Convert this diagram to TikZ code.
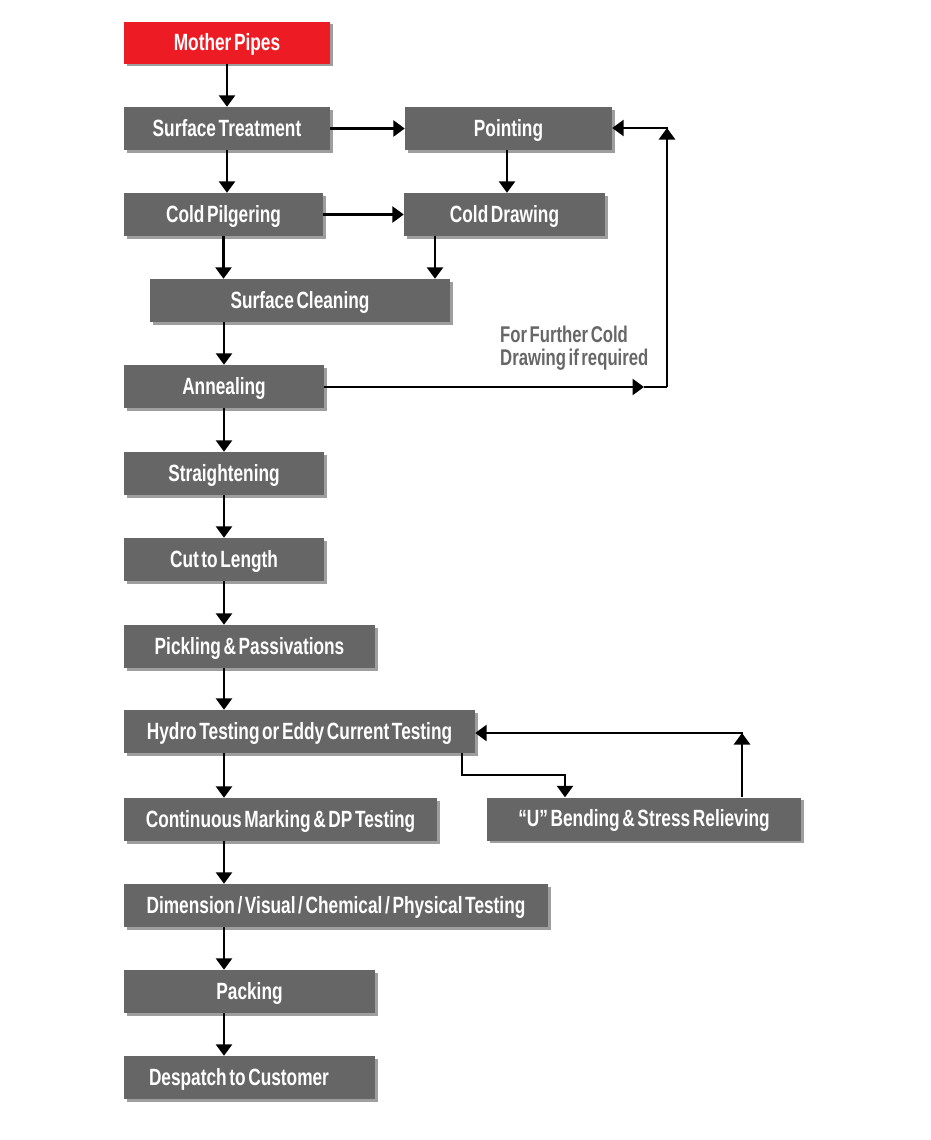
\documentclass[tikz,border=0pt]{standalone}
\usepackage{fontspec}
\newfontfamily\bx{Liberation Sans}[FakeStretch=0.735,WordSpace=0.55]
\usetikzlibrary{arrows.meta,shadows,calc}
\definecolor{boxgray}{HTML}{666666}
\definecolor{boxred}{HTML}{ED1C24}
\definecolor{notegray}{HTML}{676767}
\begin{document}
\begin{tikzpicture}[x=1pt,y=-1pt,
  boxfont/.style={font=\bx\bfseries\fontsize{23.5}{25}\selectfont},
  stepbox/.style={rectangle, fill=boxgray, text=white, inner sep=0pt,
    minimum height=43pt, text height=17pt, text depth=2pt, boxfont,
    drop shadow={shadow xshift=2.5pt,shadow yshift=-2.5pt,opacity=0.38,fill=black}},
  arr/.style={line width=2.6pt, -{Triangle[width=16pt,length=11.5pt]}},
  ln/.style={line width=2.6pt}]
\useasboundingbox (0,0) rectangle (930,1140);
\fill[white] (0,0) rectangle (930,1140);

\node[stepbox, fill=boxred, minimum width=206pt, minimum height=42pt] (mother) at (227,43) {Mother Pipes};
\node[stepbox, minimum width=206pt] (surf) at (227,128.5) {Surface Treatment};
\node[stepbox, minimum width=207pt] (point) at (508.5,128.5) {Pointing};
\node[stepbox, minimum width=199pt] (pilg) at (223.5,214.5) {Cold Pilgering};
\node[stepbox, minimum width=201pt] (cdraw) at (504.5,214.5) {Cold Drawing};
\node[stepbox, minimum width=300pt] (clean) at (300,300.5) {Surface Cleaning};
\node[stepbox, minimum width=200pt] (anneal) at (224,386.5) {Annealing};
\node[stepbox, minimum width=200pt] (straight) at (224,473.5) {Straightening};
\node[stepbox, minimum width=200pt] (cut) at (224,559.5) {Cut to Length};
\node[stepbox, minimum width=251pt] (pickle) at (249.5,646.5) {Pickling \& Passivations};
\node[stepbox, minimum width=351pt] (hydro) at (299.5,731.5) {Hydro Testing or Eddy Current Testing};
\node[stepbox, minimum width=313pt] (cont) at (280.5,819.5) {Continuous Marking \& DP Testing};
\node[stepbox, minimum width=314pt] (ubend) at (644,819) {“U” Bending \& Stress Relieving};
\node[stepbox, minimum width=424pt] (dim) at (336,905.5) {Dimension / Visual / Chemical / Physical Testing};
\node[stepbox, minimum width=251pt] (pack) at (249.5,991.5) {Packing};
\node[stepbox, minimum width=251pt] (desp) at (249.5,1077.5) {};
\node[anchor=west, inner sep=0pt, text=white, text height=17pt, text depth=2pt, boxfont] (desptext) at ([xshift=25pt]desp.west) {Despatch to Customer};

\node[anchor=north west, inner sep=0pt, text=notegray, align=left,
  font=\bx\bfseries\fontsize{22.75}{22.5}\selectfont] (note) at (500,326) {For Further Cold\\Drawing if required};

% main column
\draw[arr] (mother.south) -- (surf.north);
\draw[arr] (surf.south) -- (surf.south |- pilg.north);
\draw[arr] (surf.east) -- (point.west);
\draw[arr] ([xshift=-1.5pt]point.south) -- ([xshift=-1.5pt]point.south |- cdraw.north);
\draw[arr] (pilg.east) -- (cdraw.west);
\coordinate (cdb) at (435,236);
\draw[arr] (pilg.south) -- (pilg.south |- clean.north);
\draw[arr] (cdb) -- (cdb |- clean.north);
\draw[arr] (clean.south -| anneal.north) -- (anneal.north);
\draw[arr] (anneal.south) -- (straight.north);
\draw[arr] (straight.south) -- (cut.north);
\draw[arr] (cut.south) -- (cut.south |- pickle.north);
\draw[arr] (cut.south |- pickle.south) -- (cut.south |- hydro.north);
\draw[arr] (cut.south |- hydro.south) -- (cut.south |- cont.north);
\draw[arr] (cut.south |- cont.south) -- (cut.south |- dim.north);
\draw[arr] (cut.south |- dim.south) -- (cut.south |- pack.north);
\draw[arr] (cut.south |- pack.south) -- (cut.south |- desp.north);

% feedback loop for further cold drawing
\coordinate (fbM) at (644,387);
\coordinate (fbR) at (667,387);
\coordinate (fbT) at (667,128);
\draw[arr] (anneal.east |- fbM) -- (fbM);
\draw[ln] (fbM) -- (fbR);
\draw[arr] (fbR) -- (fbT);
\draw[arr] ([xshift=1.3pt]fbT) -- (point.east |- fbT);

% hydro / U bending loop
\coordinate (hb1) at (462,753);
\coordinate (hb2) at (462,775);
\coordinate (hb3) at (565,775);
\draw[arr, line join=miter] (hb1) -- (hb2) -- (hb3) -- (hb3 |- ubend.north);
\coordinate (ub1) at (742,797);
\coordinate (ub2) at (742,733);
\draw[arr] (ub1) -- (ub2);
\draw[arr] ([xshift=1.3pt]ub2) -- (hydro.east |- ub2);
\end{tikzpicture}
\end{document}
